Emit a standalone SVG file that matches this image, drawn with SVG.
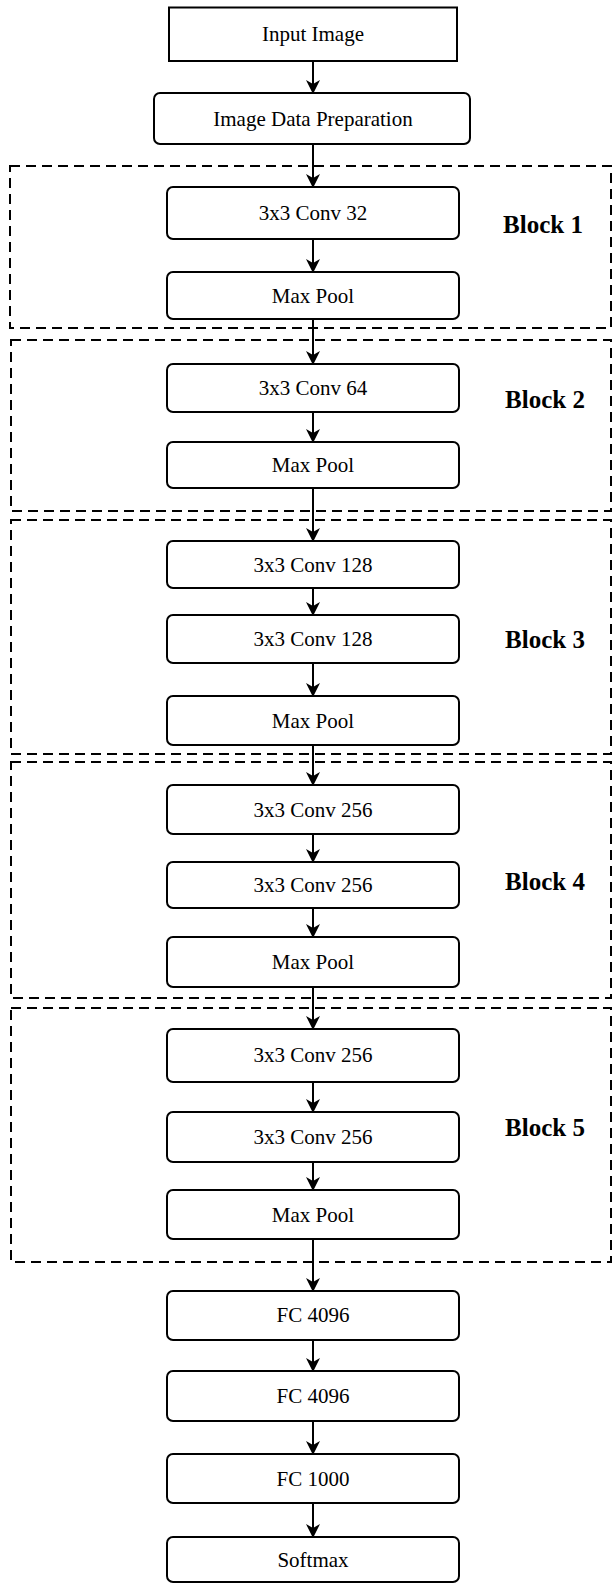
<svg xmlns="http://www.w3.org/2000/svg" width="613" height="1584" viewBox="0 0 613 1584">
<style>
.box{fill:#fff;stroke:#000;stroke-width:2}
.blk{fill:none;stroke:#000;stroke-width:2;stroke-dasharray:10 6}
.t{font-family:"Liberation Serif","Times New Roman",serif;font-size:21px;text-anchor:middle;fill:#000}
.bl{font-family:"Liberation Serif","Times New Roman",serif;font-size:25px;font-weight:bold;text-anchor:middle;fill:#000}
.c{fill:none;stroke:#000;stroke-width:2;marker-end:url(#ah)}
</style>
<defs>
<marker id="ah" markerUnits="userSpaceOnUse" markerWidth="14" markerHeight="14" viewBox="0 0 14 14" refX="13" refY="7" orient="auto">
<path d="M0,0 L14,7 L0,14 L4,7 z" fill="#000"/>
</marker>
</defs>
<rect width="613" height="1584" fill="#fff"/>
<g id="blocks">
<g id="block1"><rect class="blk" x="10" y="166" width="601" height="162"/><text class="bl" x="543" y="233">Block 1</text></g>
<g id="block2"><rect class="blk" x="11" y="340" width="600" height="171"/><text class="bl" x="545" y="408">Block 2</text></g>
<g id="block3"><rect class="blk" x="11" y="520" width="600" height="234"/><text class="bl" x="545" y="648">Block 3</text></g>
<g id="block4"><rect class="blk" x="11" y="762" width="600" height="236"/><text class="bl" x="545" y="890">Block 4</text></g>
<g id="block5"><rect class="blk" x="11" y="1008" width="600" height="254"/><text class="bl" x="545" y="1136">Block 5</text></g>
</g>
<g id="connectors">
<path class="c" d="M313,61 V93"/>
<path class="c" d="M313,144 V187"/>
<path class="c" d="M313,239 V272"/>
<path class="c" d="M313,319 V364"/>
<path class="c" d="M313,412 V442"/>
<path class="c" d="M313,488 V541"/>
<path class="c" d="M313,588 V615"/>
<path class="c" d="M313,663 V696"/>
<path class="c" d="M313,745 V785"/>
<path class="c" d="M313,834 V862"/>
<path class="c" d="M313,908 V937"/>
<path class="c" d="M313,987 V1029"/>
<path class="c" d="M313,1082 V1112"/>
<path class="c" d="M313,1162 V1190"/>
<path class="c" d="M313,1239 V1291"/>
<path class="c" d="M313,1340 V1371"/>
<path class="c" d="M313,1421 V1454"/>
<path class="c" d="M313,1503 V1537"/>
</g>
<g id="n-input"><rect class="box" x="169" y="7.5" width="288" height="53.5"/><text class="t" x="313" y="41">Input Image</text></g>
<g id="n-prep"><rect class="box" x="154" y="93" width="316" height="51" rx="6"/><text class="t" x="313" y="126">Image Data Preparation</text></g>
<g id="n-conv32"><rect class="box" x="167" y="187" width="292" height="52" rx="6"/><text class="t" x="313" y="220">3x3 Conv 32</text></g>
<g id="n-pool1"><rect class="box" x="167" y="272" width="292" height="47" rx="6"/><text class="t" x="313" y="303">Max Pool</text></g>
<g id="n-conv64"><rect class="box" x="167" y="364" width="292" height="48" rx="6"/><text class="t" x="313" y="395">3x3 Conv 64</text></g>
<g id="n-pool2"><rect class="box" x="167" y="442" width="292" height="46" rx="6"/><text class="t" x="313" y="472">Max Pool</text></g>
<g id="n-conv128a"><rect class="box" x="167" y="541" width="292" height="47" rx="6"/><text class="t" x="313" y="572">3x3 Conv 128</text></g>
<g id="n-conv128b"><rect class="box" x="167" y="615" width="292" height="48" rx="6"/><text class="t" x="313" y="646">3x3 Conv 128</text></g>
<g id="n-pool3"><rect class="box" x="167" y="696" width="292" height="49" rx="6"/><text class="t" x="313" y="728">Max Pool</text></g>
<g id="n-conv256a"><rect class="box" x="167" y="785" width="292" height="49" rx="6"/><text class="t" x="313" y="817">3x3 Conv 256</text></g>
<g id="n-conv256b"><rect class="box" x="167" y="862" width="292" height="46" rx="6"/><text class="t" x="313" y="892">3x3 Conv 256</text></g>
<g id="n-pool4"><rect class="box" x="167" y="937" width="292" height="50" rx="6"/><text class="t" x="313" y="969">Max Pool</text></g>
<g id="n-conv256c"><rect class="box" x="167" y="1029" width="292" height="53" rx="6"/><text class="t" x="313" y="1062">3x3 Conv 256</text></g>
<g id="n-conv256d"><rect class="box" x="167" y="1112" width="292" height="50" rx="6"/><text class="t" x="313" y="1144">3x3 Conv 256</text></g>
<g id="n-pool5"><rect class="box" x="167" y="1190" width="292" height="49" rx="6"/><text class="t" x="313" y="1222">Max Pool</text></g>
<g id="n-fc1"><rect class="box" x="167" y="1291" width="292" height="49" rx="6"/><text class="t" x="313" y="1322">FC 4096</text></g>
<g id="n-fc2"><rect class="box" x="167" y="1371" width="292" height="50" rx="6"/><text class="t" x="313" y="1403">FC 4096</text></g>
<g id="n-fc3"><rect class="box" x="167" y="1454" width="292" height="49" rx="6"/><text class="t" x="313" y="1486">FC 1000</text></g>
<g id="n-softmax"><rect class="box" x="167" y="1537" width="292" height="45" rx="6"/><text class="t" x="313" y="1567">Softmax</text></g>
</svg>
